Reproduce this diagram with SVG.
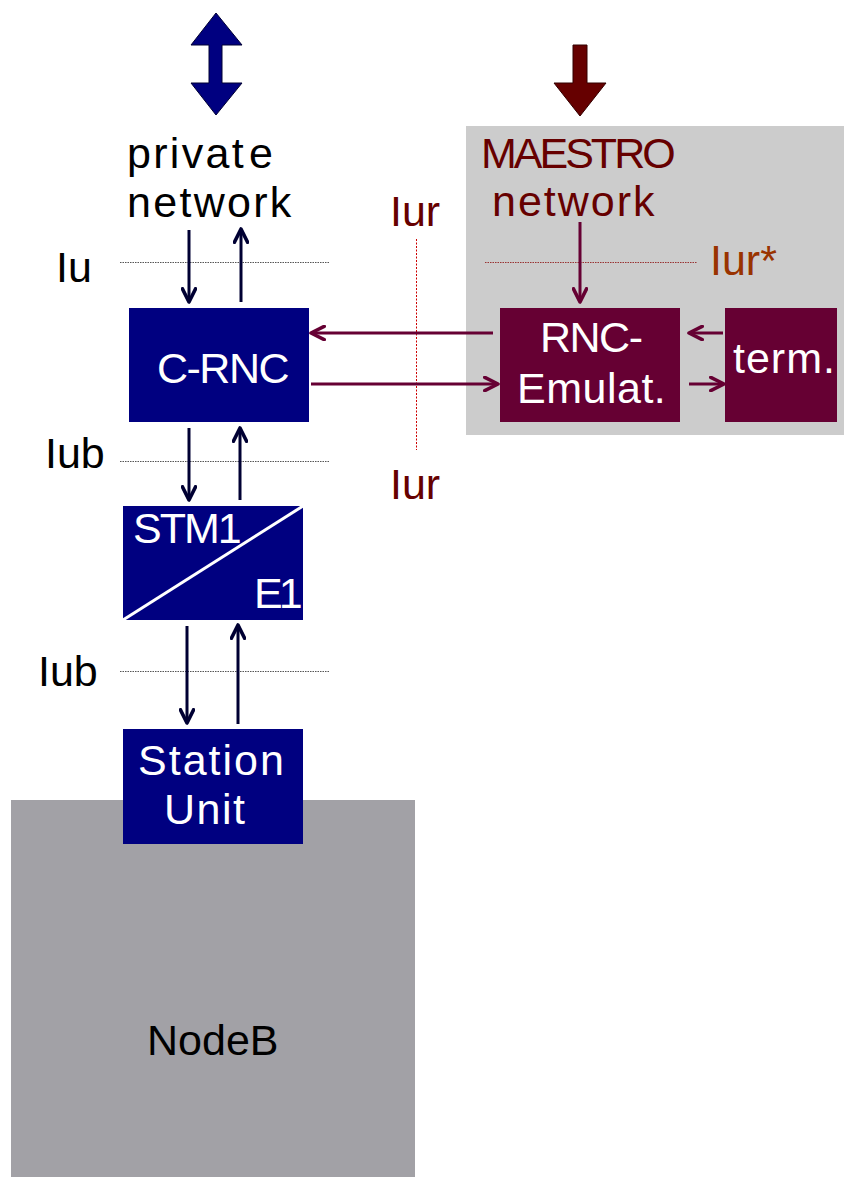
<svg xmlns="http://www.w3.org/2000/svg" width="844" height="1177" viewBox="0 0 844 1177">
  <style>
    text { font-family: "Liberation Sans", Arial, sans-serif; font-size: 43px; }
    .w { fill: #ffffff; }
    .k { fill: #000000; }
    .mr { fill: #660000; }
    .br { fill: #993300; }
    .dot { stroke: #555555; stroke-width: 1; stroke-dasharray: 1.5 1; fill: none; }
    .dotr { stroke: #cc0000; stroke-width: 1; stroke-dasharray: 2 1.5; fill: none; }
    .dotm { stroke: #993333; stroke-width: 1; stroke-dasharray: 1.5 1; fill: none; }
    .an { stroke: #000033; stroke-width: 3; fill: none; marker-end: url(#hn); }
    .aw { stroke: #660033; stroke-width: 3; fill: none; marker-end: url(#hw); }
  </style>
  <defs>
    <marker id="hn" viewBox="0 0 10 10" refX="9" refY="5" markerWidth="5.5" markerHeight="5.5" orient="auto" markerUnits="strokeWidth">
      <path d="M1,1 L9,5 L1,9" fill="none" stroke="#000033" stroke-width="2.2" stroke-linecap="round" stroke-linejoin="round"/>
    </marker>
    <marker id="hw" viewBox="0 0 10 10" refX="9" refY="5" markerWidth="5.5" markerHeight="5.5" orient="auto" markerUnits="strokeWidth">
      <path d="M1,1 L9,5 L1,9" fill="none" stroke="#660033" stroke-width="2.2" stroke-linecap="round" stroke-linejoin="round"/>
    </marker>
  </defs>

  <!-- background areas -->
  <g id="maestro-area">
    <rect x="466" y="126" width="378" height="309" fill="#cccccc"/>
    <text class="mr" x="481" y="168" letter-spacing="-3">MAESTRO</text>
    <text class="mr" x="492" y="216" font-size="44" letter-spacing="2">network</text>
  </g>
  <g id="nodeb">
    <rect x="11" y="800" width="404" height="377" fill="#a2a1a6"/>
    <text class="k" x="147" y="1055">NodeB</text>
  </g>

  <!-- big external arrows -->
  <g id="private-link">
    <polygon points="216,13 242,45 222,45 222,83 242,83 216,115 191,83 209,83 209,45 191,45" fill="#000080" stroke="#000033" stroke-width="1"/>
  </g>
  <g id="maestro-link">
    <polygon points="573,45 587,45 587,83 606,83 580,116 554,83 573,83" fill="#660000" stroke="#330000" stroke-width="1"/>
  </g>

  <g id="private-network">
    <text class="k" x="127" y="168" font-size="44" letter-spacing="2.3">privat<tspan dx="3">e</tspan></text>
    <text class="k" x="127" y="217" font-size="44" letter-spacing="2.3">network</text>
  </g>

  <!-- interface labels and reference lines -->
  <g id="interfaces">
    <line class="dot" x1="120" y1="262.5" x2="330" y2="262.5"/>
    <line class="dot" x1="120" y1="461.5" x2="330" y2="461.5"/>
    <line class="dot" x1="120" y1="671.5" x2="330" y2="671.5"/>
    <line class="dotm" x1="485" y1="262.5" x2="697" y2="262.5"/>
    <line class="dotr" x1="416.5" y1="239" x2="416.5" y2="450"/>
    <text class="k" x="56" y="282">Iu</text>
    <text class="k" x="45" y="468">Iub</text>
    <text class="k" x="38" y="686">Iub</text>
    <text class="mr" x="390" y="226">Iur</text>
    <text class="mr" x="390" y="499">Iur</text>
    <text class="br" x="710" y="275">Iur*</text>
  </g>

  <!-- nodes -->
  <g id="c-rnc">
    <rect x="129" y="308" width="180" height="114" fill="#000080"/>
    <text class="w" x="157" y="383" font-size="42" letter-spacing="-1.5">C-RNC</text>
  </g>
  <g id="rnc-emulator">
    <rect x="500" y="308" width="180" height="114" fill="#660033"/>
    <text class="w" x="540" y="352" font-size="42" letter-spacing="-1.5">RNC-</text>
    <text class="w" x="517" y="403" font-size="43" letter-spacing="0.5">Emulat.</text>
  </g>
  <g id="term">
    <rect x="725" y="308" width="112" height="114" fill="#660033"/>
    <text class="w" x="733" y="373" font-size="39" letter-spacing="1">term.</text>
  </g>
  <g id="stm1-e1">
    <rect x="123" y="506" width="180" height="114" fill="#000080"/>
    <line x1="123" y1="620" x2="303" y2="506" stroke="#ffffff" stroke-width="3"/>
    <text class="w" x="133" y="543" font-size="38" letter-spacing="-2">STM1</text>
    <text class="w" x="254" y="608" font-size="39" letter-spacing="-4">E1</text>
  </g>
  <g id="station-unit">
    <rect x="123" y="729" width="180" height="115" fill="#000080"/>
    <text class="w" x="138" y="775" letter-spacing="2">Station</text>
    <text class="w" x="164" y="824" letter-spacing="1.5">Unit</text>
  </g>

  <!-- connectors -->
  <g id="connectors">
    <line class="an" x1="189" y1="230" x2="189" y2="302"/>
    <line class="an" x1="241" y1="302" x2="241" y2="229"/>
    <line class="an" x1="189" y1="428" x2="189" y2="500"/>
    <line class="an" x1="240" y1="500" x2="240" y2="428"/>
    <line class="an" x1="187" y1="626" x2="187" y2="723"/>
    <line class="an" x1="238" y1="724" x2="238" y2="625"/>
    <line class="aw" x1="493" y1="333" x2="311" y2="333"/>
    <line class="aw" x1="311" y1="384" x2="498" y2="384"/>
    <line class="aw" x1="580" y1="222" x2="580" y2="302"/>
    <line class="aw" x1="723" y1="333" x2="689" y2="333"/>
    <line class="aw" x1="689" y1="384" x2="724" y2="384"/>
  </g>
</svg>
